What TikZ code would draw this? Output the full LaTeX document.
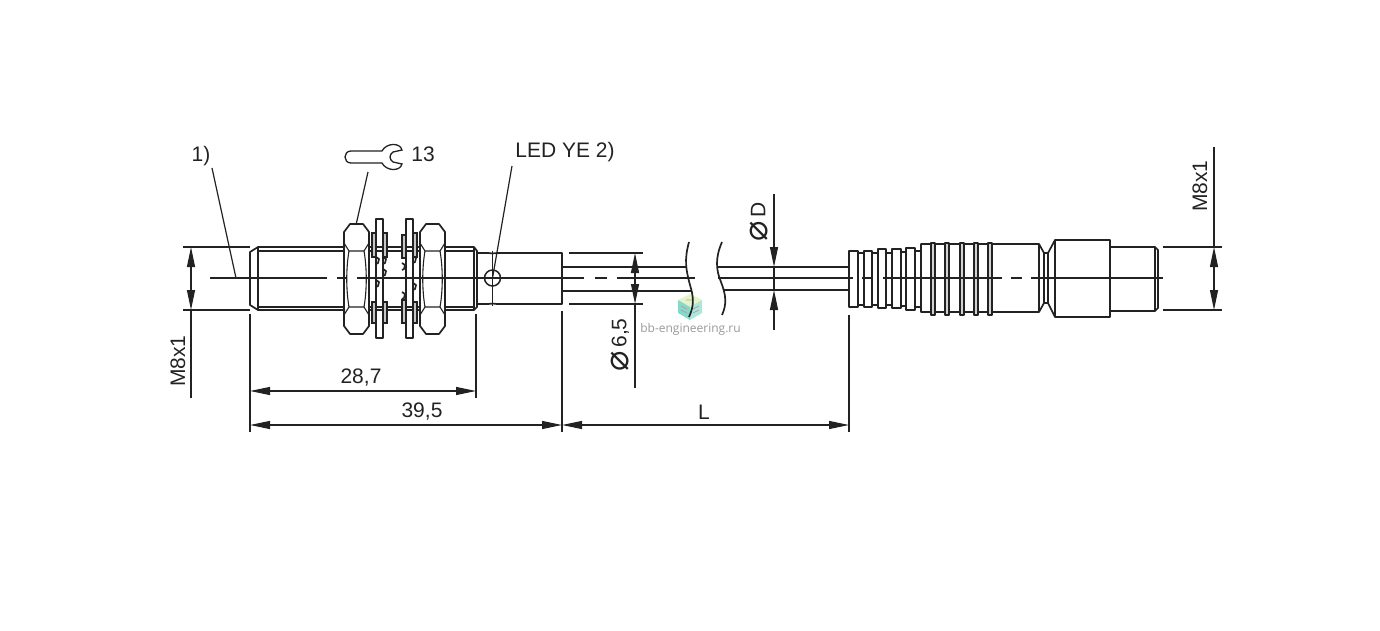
\documentclass[tikz,border=0pt]{standalone}
\usepackage{fontspec}
\setmainfont{Liberation Sans}
\newfontfamily\symfont{DejaVu Sans}
\newfontfamily\markfont{Open Sans}
\usetikzlibrary{arrows.meta,calc}
\definecolor{inkcol}{HTML}{222222}
\definecolor{cubetop}{HTML}{E4F4C8}
\definecolor{cubeleft}{HTML}{86D8C8}
\definecolor{cuberight}{HTML}{AEE6DC}
\tikzset{
  part/.style={draw=inkcol,line width=1.7pt,line join=round},
  thin part/.style={draw=inkcol,line width=1.1pt},
  axis/.style={draw=inkcol,line width=1.2pt},
  dim/.style={draw=inkcol,line width=1.2pt},
  dim both/.style={dim,{Triangle[length=20pt,width=8pt]}-{Triangle[length=20pt,width=8pt]}},
  dim end/.style={dim,-{Triangle[length=20pt,width=8pt]}},
  lab/.style={text=inkcol,font=\fontsize{21}{25}\selectfont,inner sep=0pt},
}
\newcommand{\dia}{\raisebox{-2pt}{\symfont\fontsize{34}{34}\selectfont\char"2300}}
\begin{document}
\begin{tikzpicture}[x=1pt,y=-1pt]
\useasboundingbox (0,0) rectangle (1380,631);
% watermark
\fill[cubetop] (690,294) -- (702,300) -- (690,307) -- (678,300) -- cycle;
\fill[cubeleft] (678,300) -- (690,307) -- (690,320) -- (678,313) -- cycle;
\fill[cuberight] (690,307) -- (702,300) -- (702,313) -- (690,320) -- cycle;
\draw[gray!70,line width=.7pt] (681,306) -- (687,309) (681,310) -- (687,313) (693,309) -- (699,306) (693,313) -- (699,310) (686,300) -- (694,300);
\node[text=gray!80,font=\markfont\fontsize{12}{14}\selectfont,inner sep=0pt] (mark) at (690.5,329) {bb-engineering.ru};
% thread and housing
\draw[part] (345,247) -- (258,247) -- (250,252) -- (250,305) -- (258,310) -- (345,310);
\draw[thin part] (258,247) -- (258,310) (258,251) -- (345,251) (258,307) -- (345,307);
\draw[part] (369,247) -- (420,247) (369,310) -- (420,310);
\draw[thin part] (369,251) -- (420,251) (369,307) -- (420,307);
\draw[part] (445,247) -- (474,247) -- (477,251) -- (477,307) -- (474,310) -- (445,310);
\draw[thin part] (445,251) -- (474,251) (445,307) -- (474,307) (474,247) -- (474,310);
% sleeve with led
\draw[part] (477,253) -- (488,253) to[bend right=10] (497,253) -- (562,253) -- (562,304) -- (497,304) to[bend right=10] (488,304) -- (477,304);
\draw[thin part] (492.5,251) -- (492.5,306);
\node[circle,draw=inkcol,line width=1.5pt,minimum size=16pt,inner sep=0pt] (led) at (492.5,278) {};
% nuts
\foreach \nx in {344,420} {
  \draw[part] (\nx+6,224) -- (\nx+19,224) -- (\nx+25,232) -- (\nx+25,326) -- (\nx+19,334) -- (\nx+6,334) -- (\nx,326) -- (\nx,232) -- cycle;
  \draw[thin part] (\nx,243) -- (\nx+5,251) -- (\nx+20,251) -- (\nx+25,243);
  \draw[thin part] (\nx,315) -- (\nx+5,307) -- (\nx+20,307) -- (\nx+25,315);
  \draw[thin part] (\nx+5,251) .. controls (\nx+2,268) and (\nx+2,290) .. (\nx+5,307);
  \draw[thin part] (\nx+20,251) .. controls (\nx+23,268) and (\nx+23,290) .. (\nx+20,307);
}
% washers
\draw[part] (376,219) rectangle (383,338);
\draw[part] (406,219) rectangle (413,338);
\draw[thin part,fill=gray!45] (372,233) rectangle (376,257) (383,233) rectangle (387,257);
\draw[thin part,fill=gray!45] (372,302) rectangle (376,323) (383,302) rectangle (387,323);
\draw[thin part,fill=gray!45] (402,235) rectangle (406,258) (413,233) rectangle (417,257);
\draw[thin part,fill=gray!45] (402,300) rectangle (406,323) (413,302) rectangle (417,323);
\foreach \bx/\by in {383/269,376/280,402/263,413/283,402/292,413/256,383/257,376/257}
  \draw[part] (\bx,\by) -- ++(3,2) -- ++(-1,4) -- ++(-2,1);
% cable
\draw[part] (562,267) -- (686,267) (562,291) -- (692,291);
\draw[part] (718,267) -- (849,267) (723,290) -- (849,290);
\draw[part] (689,242) .. controls (684,260) and (686,270) .. (690,285) .. controls (694,298) and (694,306) .. (689,317);
\draw[part] (722,242) .. controls (715,258) and (716,270) .. (721,282) .. controls (726,295) and (727,304) .. (722,315);
% plug, strain relief
\draw[part] (849,251) rectangle (858,307);
\draw[part] (858,253) -- (864,253) (858,305) -- (864,305);
\draw[part] (864,251) rectangle (872,307);
\draw[part] (872,253) -- (878,253) (872,305) -- (878,305);
\draw[part] (878,249) rectangle (886,308);
\draw[part] (886,253) -- (892,253) (886,305) -- (892,305);
\draw[part] (892,249) rectangle (901,308);
\draw[part] (901,252) -- (906,252) (901,306) -- (906,306);
\draw[part] (906,248) rectangle (915,310);
\draw[part] (915,251) -- (921,251) (915,307) -- (921,307);
% plug, grip
\draw[part] (921,244) -- (1039,244) -- (1044,253) -- (1048,253) -- (1055,240) -- (1110,240) -- (1110,317) -- (1055,317) -- (1048,303) -- (1044,303) -- (1039,312) -- (921,312) -- cycle;
\foreach \rx in {933,947,962,976,990}
  \draw[part,fill=gray!35] (\rx-2,243) rectangle (\rx+2,315);
\draw[thin part] (1039,244) -- (1039,312) (1044,253) -- (1044,303) (1048,253) -- (1048,303) (1055,240) -- (1055,317);
\draw[part] (1110,247) -- (1155,247) -- (1158,250) -- (1158,308) -- (1155,311) -- (1110,311);
\draw[thin part] (1155,247) -- (1155,311);
% centre line
\draw[axis] (210,278) -- (327,278) (337,278) -- (346,278) (357,278) -- (584,278) (595,278) -- (607,278) (617,278) -- (695,278);
\draw[axis] (718,278) -- (853,278) (862,278) -- (872,278) (883,278) -- (1002,278) (1011,278) -- (1022,278) (1031,278) -- (1163,278);
% labels and leaders
\node[lab] (one) at (201,156) {1)};
\coordinate (oneend) at (236,278);
\draw[dim] (212,168) -- (oneend);
\node[lab] (wsize) at (423,154) {13};
\draw[thin part,line width=1.3pt] (382,151) -- (351,151) .. controls (343,151) and (343,163) .. (351,163) -- (382,163) .. controls (386,171) and (400,172) .. (402,164) -- (393,162) .. controls (389,159) and (389,155) .. (393,152) -- (402,150) .. controls (400,142) and (386,143) .. (382,151);
\coordinate (wstart) at (368,172);
\coordinate (wend) at (356,225);
\draw[dim] (wstart) -- (wend);
\node[lab] (ledlab) at (565,152) {LED YE 2)};
\coordinate (ledstart) at (512,166);
\draw[dim] (ledstart) -- (led.center);
% thread dimension, left
\draw[dim] (183,247) -- (250,247) (183,310) -- (250,310);
\draw[dim both] (191,247) -- (191,310);
\draw[dim] (191,310) -- (191,398);
\node[lab,rotate=90] (mleft) at (178,361) {M8x1};
% length dimensions
\draw[dim] (250,314) -- (250,432) (476,314) -- (476,398) (562,311) -- (562,432) (849,315) -- (849,432);
\draw[dim both] (250,391) -- (476,391);
\node[lab] (len287) at (361,378) {28,7};
\draw[dim both] (250,425) -- (562,425);
\node[lab] (len395) at (422,412) {39,5};
\draw[dim both] (562,425) -- (849,425);
\node[lab] (lenL) at (704,412) {L};
% cable diameters
\draw[dim] (569,253) -- (643,253) (569,304) -- (643,304);
\draw[dim both] (635,253) -- (635,304);
\draw[dim] (635,304) -- (635,388);
\node[lab,rotate=90] (d65) at (620,345) {\dia\,6,5};
\draw[dim end] (774,194) -- (774,267);
\draw[dim end] (774,330) -- (774,290);
\draw[dim] (774,267) -- (774,290);
\node[lab,rotate=90] (dD) at (759,222) {\dia\,D};
% thread dimension, right
\draw[dim] (1163,247) -- (1222,247) (1163,310) -- (1222,310);
\draw[dim both] (1214,247) -- (1214,310);
\draw[dim] (1214,147) -- (1214,247);
\node[lab,rotate=90] (mright) at (1200,186) {M8x1};
\end{tikzpicture}
\end{document}
